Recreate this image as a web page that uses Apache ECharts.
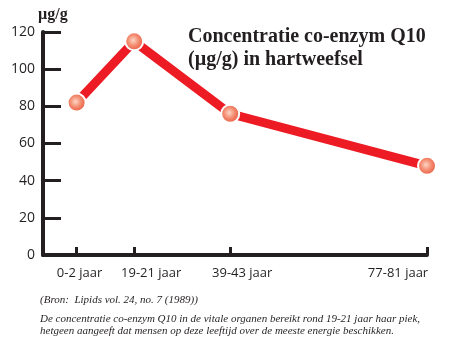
<!DOCTYPE html>
<html>
<head>
<meta charset="utf-8">
<script src="https://cdn.jsdelivr.net/npm/echarts@6/dist/echarts.min.js"></script>
<style>
  html, body { margin: 0; padding: 0; background: #fff; }
  #chart { width: 455px; height: 340px; }
</style>
</head>
<body>
<div id="chart"></div>
<script>
// Age groups, their positions along the age axis, and CoQ10 concentration (µg/g)
const ageGroups = ['0-2 jaar', '19-21 jaar', '39-43 jaar', '77-81 jaar'];
const agePositions = [3.5, 9.5, 19.5, 40];
const concentration = [82, 115, 76, 48];
const yTicks = [0, 20, 40, 60, 80, 100, 120];

const titleLines = ['Concentratie co-enzym Q10', '(\u00b5g/g) in hartweefsel'];
const unitLabel = '\u00b5g/g';
const sourceNote = '(Bron:  Lipids vol. 24, no. 7 (1989))';
const captionLines = [
  'De concentratie co-enzym Q10 in de vitale organen bereikt rond 19-21 jaar haar piek,',
  'hetgeen aangeeft dat mensen op deze leeftijd over de meeste energie beschikken.'
];

const ink = '#231f20';
const labelShift = [{ padding: [0, 0, 0, 6] }, { padding: [0, 0, 0, 34] }, { padding: [0, 0, 0, 24] }, { padding: [0, 58, 0, 0] }];
const rich = {};
labelShift.forEach((s, i) => { rich['l' + i] = Object.assign({ fontFamily: 'Open Sans', fontSize: 13, color: ink }, s); });

const chart = echarts.init(document.getElementById('chart'), null, { renderer: 'canvas' });
chart.setOption({
  animation: false,
  backgroundColor: '#fff',
  grid: { left: 43, right: 28, top: 32, bottom: 85 },
  xAxis: {
    type: 'value',
    min: 0,
    max: 40,
    axisLine: { show: true, lineStyle: { color: ink, width: 4 } },
    axisTick: { show: true, inside: true, length: 8, lineStyle: { color: ink, width: 3 }, customValues: agePositions },
    axisLabel: {
      customValues: agePositions,
      margin: 12,
      formatter: v => {
        const i = agePositions.indexOf(v);
        return i < 0 ? '' : '{l' + i + '|' + ageGroups[i] + '}';
      },
      rich: rich
    },
    splitLine: { show: false }
  },
  yAxis: {
    type: 'value',
    min: yTicks[0],
    max: yTicks[yTicks.length - 1],
    interval: 20,
    axisLine: { show: true, lineStyle: { color: ink, width: 4 } },
    axisTick: { show: true, inside: true, length: 18, lineStyle: { color: ink, width: 3 } },
    axisLabel: { color: ink, fontFamily: 'Open Sans', fontSize: 14, margin: 8 },
    splitLine: { show: false }
  },
  series: [{
    type: 'line',
    data: agePositions.map((x, i) => [x, concentration[i]]),
    lineStyle: { color: '#ed1c24', width: 9 },
    symbol: 'circle',
    symbolSize: 18,
    itemStyle: {
      color: {
        type: 'radial', x: 0.45, y: 0.45, r: 0.6,
        colorStops: [
          { offset: 0, color: '#fcd5c4' },
          { offset: 0.45, color: '#f48c70' },
          { offset: 1, color: '#e64d35' }
        ]
      },
      borderColor: '#fff',
      borderWidth: 2
    },
    z: 3
  }],
  graphic: [
    { type: 'text', left: 38, top: 7, style: { text: unitLabel, font: 'bold 16px "Liberation Serif"', fill: ink } },
    { type: 'text', left: 188, top: 25, style: { text: titleLines.join('\n'), font: 'bold 20px "Liberation Serif"', lineHeight: 23, fill: ink } },
    { type: 'text', left: 40, top: 295, style: { text: sourceNote, font: 'italic 11px "Liberation Serif"', fill: ink } },
    { type: 'text', left: 40, top: 313, style: { text: captionLines.join('\n'), font: 'italic 11px "Liberation Serif"', lineHeight: 12, fill: ink } }
  ]
});
</script>
</body>
</html>
